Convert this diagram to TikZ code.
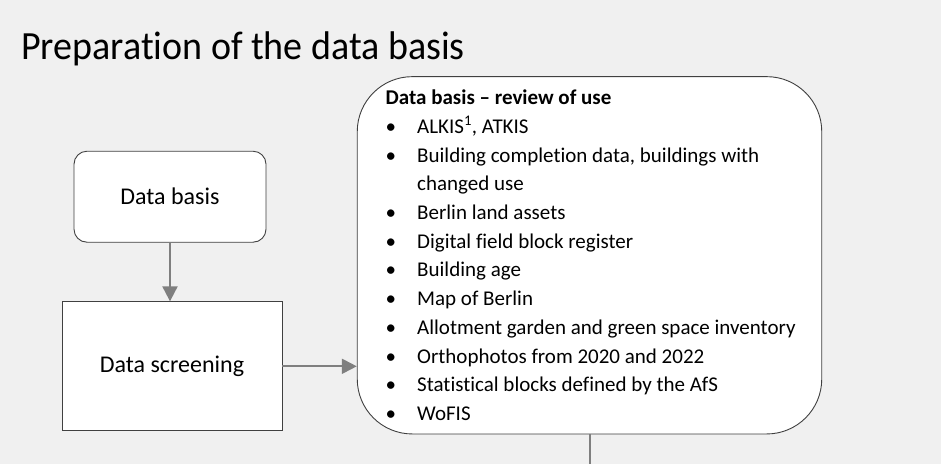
\documentclass[tikz,border=0pt]{standalone}
\usepackage{fontspec}
\setmainfont{Carlito}[Ligatures=CommonOff]
\newfontfamily\titlefont{Carlito}[Ligatures=CommonOff, FakeStretch=0.95]
\usetikzlibrary{arrows.meta}
\definecolor{bgc}{HTML}{F0F0F0}
\definecolor{edgec}{HTML}{404040}
\definecolor{arrc}{HTML}{7F7F7F}
\tikzset{
  boxbase/.style={draw=edgec, line width=0.9pt, fill=white, inner sep=0pt, font=\fontsize{24}{28}\selectfont},
  roundbox/.style={boxbase, rounded corners=13pt},
  squarebox/.style={boxbase},
  bigbox/.style={draw=edgec, line width=0.9pt, fill=white, rounded corners=55pt, inner sep=0pt},
  conn/.style={draw=arrc, line width=2pt, -{Triangle[length=15pt,width=15pt]}},
  plainconn/.style={draw=arrc, line width=2pt},
  listtxt/.style={anchor=base west, inner sep=0pt, font=\fontsize{21}{25}\selectfont},
  bul/.style={anchor=base west, inner sep=0pt, font=\fontsize{21}{25}\selectfont},
}
\begin{document}
\begin{tikzpicture}[x=1pt,y=-1pt]
\fill[bgc] (0,0) rectangle (941,464);
\useasboundingbox (0,0) rectangle (941,464);
\node[anchor=base west, inner sep=0pt, font=\titlefont\fontsize{40}{48}\selectfont] (title) at (21,59) {Preparation of the data basis};
\node[roundbox, minimum width=192pt, minimum height=91pt] (dbasis) at (170,196.7) {Data basis};
\node[squarebox, minimum width=220pt, minimum height=129pt] (screen) at (172,366.3) {Data screening};
\node[bigbox, minimum width=464.5pt, minimum height=357.3pt] (review) at (589.5,255.3) {};
\coordinate (down) at (589.5,464);
\draw[conn] (dbasis.south) -- (dbasis.south |- screen.north);
\draw[conn] (screen.east) -- (screen.east -| review.west);
\draw[plainconn] (review.south) -- (down);
\node[listtxt, font=\bfseries\fontsize{21}{25}\selectfont] (head) at (385.5,104.3) {Data basis – review of use};
\foreach \i/\y/\t in {1/133.3/{ALKIS\textsuperscript{1}, ATKIS},
  2/162.3/{Building completion data, buildings with},
  4/219.3/{Berlin land assets},
  5/248.3/{Digital field block register},
  6/276.7/{Building age},
  7/305.7/{Map of Berlin},
  8/334.3/{Allotment garden and green space inventory},
  9/363.3/{Orthophotos from 2020 and 2022},
  10/391.7/{Statistical blocks defined by the AfS},
  11/420.7/{WoFIS}}{
  \node[bul] (b\i) at (385.5,\y) {•};
  \node[listtxt] (l\i) at (417,\y) {\t};
}
\node[listtxt] (l3) at (417,190.7) {changed use};
\end{tikzpicture}
\end{document}
